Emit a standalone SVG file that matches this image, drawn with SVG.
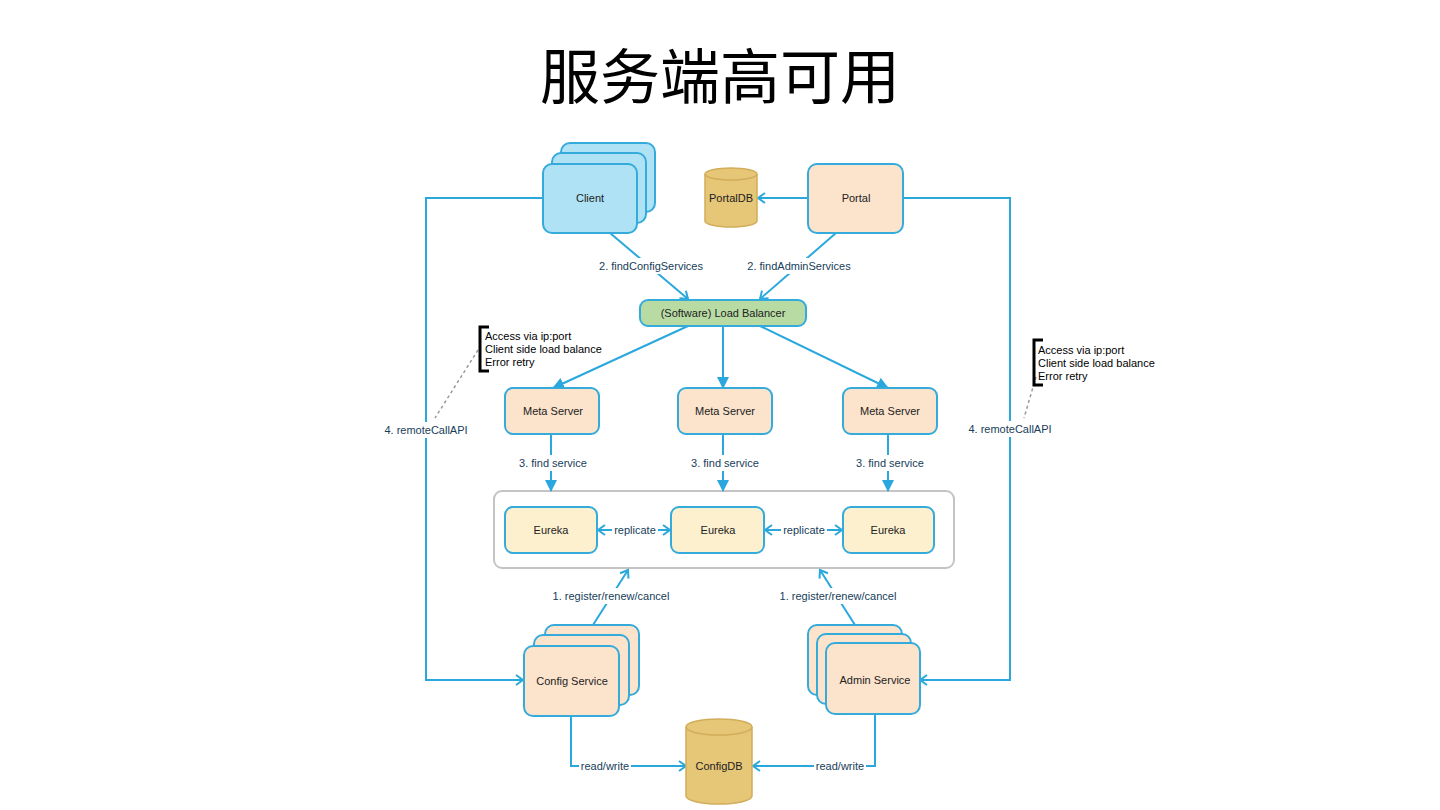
<svg xmlns="http://www.w3.org/2000/svg" width="1440" height="810" viewBox="0 0 1440 810">
<style>
.node{stroke:#35abdc;stroke-width:2}
.client{fill:#aee2f4}
.peach{fill:#fbe3cc}
.eureka{fill:#fdf0cf}
.lb{fill:#b8dba4}
.db{fill:#e6c677;stroke:#d2ad5a;stroke-width:1.5}
.ntext{font-family:"Liberation Sans",Arial,sans-serif;font-size:11px;fill:#222;text-anchor:middle;dominant-baseline:central}
.conn{fill:none;stroke:#2aa8de;stroke-width:2}
.elabel{font-family:"Liberation Sans",Arial,sans-serif;font-size:11px;fill:#17405a;text-anchor:middle;dominant-baseline:central}
.note{font-family:"Liberation Sans",Arial,sans-serif;font-size:11px;fill:#000}
.dash{fill:none;stroke:#999;stroke-width:1.5;stroke-dasharray:3 3}
.bracket{fill:none;stroke:#000;stroke-width:3}
</style>
<defs>
<marker id="tri" markerUnits="userSpaceOnUse" markerWidth="14" markerHeight="14" refX="11" refY="6" orient="auto">
<path d="M0,0 L12,6 L0,12 z" fill="#2aa8de"/>
</marker>
<marker id="chev" markerUnits="userSpaceOnUse" markerWidth="12" markerHeight="14" refX="8" refY="6" orient="auto">
<path d="M1,1 L8,6 L1,11" fill="none" stroke="#2aa8de" stroke-width="2"/>
</marker>
<marker id="chevs" markerUnits="userSpaceOnUse" markerWidth="12" markerHeight="14" refX="1" refY="6" orient="auto">
<path d="M8,1 L1,6 L8,11" fill="none" stroke="#2aa8de" stroke-width="2"/>
</marker>
</defs>
<rect width="1440" height="810" fill="#fff"/>
<text x="720" y="99" text-anchor="middle" font-family="'Noto Sans CJK SC','Noto Sans',sans-serif" font-size="60" fill="#000">服务端高可用</text>

<g id="eureka-cluster">
<rect x="494" y="491" width="460" height="77" rx="8" fill="#fff" stroke="#c4c4c4" stroke-width="2"/>
</g>

<g id="connectors">
<path class="conn" d="M543,198 H426 V680 H523" marker-end="url(#chev)"/>
<path class="conn" d="M903,198 H1010 V680 H920" marker-end="url(#chev)"/>
<path class="conn" d="M808,198 H758" marker-end="url(#chev)"/>
<path class="conn" d="M610,233 L688,299" marker-end="url(#chev)"/>
<path class="conn" d="M836,233 L760,299" marker-end="url(#chev)"/>
<path class="conn" d="M688,326 L553,388" marker-end="url(#tri)"/>
<path class="conn" d="M723,326 V388" marker-end="url(#tri)"/>
<path class="conn" d="M760,326 L888,388" marker-end="url(#tri)"/>
<path class="conn" d="M551,434 V491" marker-end="url(#tri)"/>
<path class="conn" d="M723,434 V491" marker-end="url(#tri)"/>
<path class="conn" d="M888,434 V491" marker-end="url(#tri)"/>
<path class="conn" d="M598,530 H670" marker-start="url(#chevs)" marker-end="url(#chev)"/>
<path class="conn" d="M765,530 H842" marker-start="url(#chevs)" marker-end="url(#chev)"/>
<path class="conn" d="M593,625 L628,570" marker-end="url(#chev)"/>
<path class="conn" d="M855,625 L820,570" marker-end="url(#chev)"/>
<path class="conn" d="M571,716 V766 H686" marker-end="url(#chev)"/>
<path class="conn" d="M875,714 V766 H753" marker-end="url(#chev)"/>
<path class="dash" d="M478,350 L435,418"/>
<path class="dash" d="M1036,377 L1024,418"/>
<g>
<rect x="380" y="422" width="92" height="16" fill="#fff"/>
<text class="elabel" x="426" y="430">4. remoteCallAPI</text>
<rect x="964" y="421" width="92" height="16" fill="#fff"/>
<text class="elabel" x="1010" y="429">4. remoteCallAPI</text>
<rect x="596" y="258" width="110" height="16" fill="#fff"/>
<text class="elabel" x="651" y="266">2. findConfigServices</text>
<rect x="745" y="258" width="108" height="16" fill="#fff"/>
<text class="elabel" x="799" y="266">2. findAdminServices</text>
<rect x="516" y="455" width="74" height="16" fill="#fff"/>
<text class="elabel" x="553" y="463">3. find service</text>
<rect x="688" y="455" width="74" height="16" fill="#fff"/>
<text class="elabel" x="725" y="463">3. find service</text>
<rect x="853" y="455" width="74" height="16" fill="#fff"/>
<text class="elabel" x="890" y="463">3. find service</text>
<rect x="612" y="522" width="46" height="16" fill="#fff"/>
<text class="elabel" x="635" y="530">replicate</text>
<rect x="781" y="522" width="46" height="16" fill="#fff"/>
<text class="elabel" x="804" y="530">replicate</text>
<rect x="551" y="588" width="122" height="16" fill="#fff"/>
<text class="elabel" x="611" y="596">1. register/renew/cancel</text>
<rect x="778" y="588" width="122" height="16" fill="#fff"/>
<text class="elabel" x="838" y="596">1. register/renew/cancel</text>
<rect x="579" y="758" width="52" height="16" fill="#fff"/>
<text class="elabel" x="605" y="766">read/write</text>
<rect x="814" y="758" width="52" height="16" fill="#fff"/>
<text class="elabel" x="840" y="766">read/write</text>
</g>
</g>

<g id="client">
<rect class="node client" x="561" y="143" width="94" height="69" rx="9"/>
<rect class="node client" x="552" y="153" width="94" height="70" rx="9"/>
<rect class="node client" x="543" y="164" width="94" height="69" rx="9"/>
<text class="ntext" x="590" y="198">Client</text>
</g>

<g id="portaldb">
<path class="db" d="M705,174 V221 A26,6 0 0 0 757,221 V174 A26,6 0 0 0 705,174 Z"/>
<path d="M705,174 A26,6 0 0 0 757,174" fill="none" stroke="#d2ad5a" stroke-width="1.5"/>
<text class="ntext" x="731" y="198">PortalDB</text>
</g>

<g id="portal">
<rect class="node peach" x="808" y="164" width="95" height="69" rx="9"/>
<text class="ntext" x="856" y="198">Portal</text>
</g>

<g id="loadbalancer">
<rect class="node lb" x="640" y="300" width="166" height="26" rx="8"/>
<text class="ntext" x="723" y="313">(Software) Load Balancer</text>
</g>

<g id="meta1">
<rect class="node peach" x="505" y="388" width="94" height="46" rx="8"/>
<text class="ntext" x="553" y="411">Meta Server</text>
</g>
<g id="meta2">
<rect class="node peach" x="678" y="388" width="94" height="46" rx="8"/>
<text class="ntext" x="725" y="411">Meta Server</text>
</g>
<g id="meta3">
<rect class="node peach" x="843" y="388" width="94" height="46" rx="8"/>
<text class="ntext" x="890" y="411">Meta Server</text>
</g>

<g id="eureka1">
<rect class="node eureka" x="505" y="507" width="92" height="46" rx="8"/>
<text class="ntext" x="551" y="530">Eureka</text>
</g>
<g id="eureka2">
<rect class="node eureka" x="671" y="507" width="93" height="46" rx="8"/>
<text class="ntext" x="718" y="530">Eureka</text>
</g>
<g id="eureka3">
<rect class="node eureka" x="843" y="507" width="91" height="46" rx="8"/>
<text class="ntext" x="888" y="530">Eureka</text>
</g>

<g id="configservice">
<rect class="node peach" x="545" y="625" width="94" height="70" rx="9"/>
<rect class="node peach" x="534" y="635" width="95" height="70" rx="9"/>
<rect class="node peach" x="524" y="646" width="95" height="70" rx="9"/>
<text class="ntext" x="572" y="681">Config Service</text>
</g>

<g id="adminservice">
<rect class="node peach" x="808" y="625" width="94" height="70" rx="9"/>
<rect class="node peach" x="817" y="634" width="94" height="70" rx="9"/>
<rect class="node peach" x="826" y="643" width="94" height="71" rx="9"/>
<text class="ntext" x="875" y="680">Admin Service</text>
</g>

<g id="configdb">
<path class="db" d="M686,727 V796 A33,8 0 0 0 752,796 V727 A33,8 0 0 0 686,727 Z"/>
<path d="M686,727 A33,8 0 0 0 752,727" fill="none" stroke="#d2ad5a" stroke-width="1.5"/>
<text class="ntext" x="719" y="766">ConfigDB</text>
</g>

<g id="note-left">
<path class="bracket" d="M489,327 H480 V371 H489"/>
<text class="note" x="485" y="340">Access via ip:port</text>
<text class="note" x="485" y="353">Client side load balance</text>
<text class="note" x="485" y="366">Error retry</text>
</g>

<g id="note-right">
<path class="bracket" d="M1043,340 H1034 V385 H1043"/>
<text class="note" x="1038" y="354">Access via ip:port</text>
<text class="note" x="1038" y="367">Client side load balance</text>
<text class="note" x="1038" y="380">Error retry</text>
</g>
</svg>
